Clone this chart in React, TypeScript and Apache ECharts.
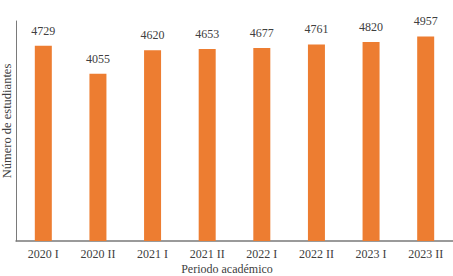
import React, { useEffect, useRef } from "react";
import * as echarts from "echarts";

const categories = ["2020 I", "2020 II", "2021 I", "2021 II", "2022 I", "2022 II", "2023 I", "2023 II"];
const students = [4729, 4055, 4620, 4653, 4677, 4761, 4820, 4957];
const xTitle = "Periodo académico";
const yTitle = "Número de estudiantes";

const FONT = "'Liberation Serif', 'DejaVu Serif', serif";

export default function App() {
  const ref = useRef<HTMLDivElement>(null);
  useEffect(() => {
    if (!ref.current) return;
    const chart = echarts.init(ref.current, undefined, { renderer: "svg" });
    chart.setOption({
      animation: false,
      backgroundColor: "#ffffff",
      grid: { left: 16, top: 21, bottom: 35, width: 440, containLabel: false },
      xAxis: {
        type: "category",
        data: categories,
        axisLine: { lineStyle: { color: "#7a7a7a", width: 1.5 } },
        axisTick: { show: false },
        axisLabel: { color: "#404040", fontFamily: FONT, fontSize: 12, margin: 6, lineHeight: 13 },
      },
      yAxis: {
        type: "value",
        min: 0,
        max: 5330,
        splitLine: { show: false },
        axisLabel: { show: false },
        axisTick: { show: false },
        axisLine: { show: true, lineStyle: { color: "#7a7a7a", width: 1 } },
      },
      graphic: [
        {
          type: "text",
          x: 227,
          y: 269,
          style: {
            text: xTitle,
            fill: "#404040",
            font: `12px ${FONT}`,
            textAlign: "center",
            textVerticalAlign: "middle",
          },
        },
        {
          type: "text",
          x: 7,
          y: 121,
          rotation: Math.PI / 2,
          style: {
            text: yTitle,
            fill: "#404040",
            font: `12.5px ${FONT}`,
            textAlign: "center",
            textVerticalAlign: "middle",
          },
        },
      ],
      series: [
        {
          type: "bar",
          data: students,
          barWidth: 17,
          itemStyle: { color: "#ED7D31" },
          label: {
            show: true,
            position: "top",
            distance: 9,
            color: "#404040",
            fontFamily: FONT,
            fontSize: 12,
          },
        },
      ],
    });
    return () => chart.dispose();
  }, []);
  return <div ref={ref} style={{ width: 453, height: 276, position: "absolute", left: 0, top: 0 }} />;
}
